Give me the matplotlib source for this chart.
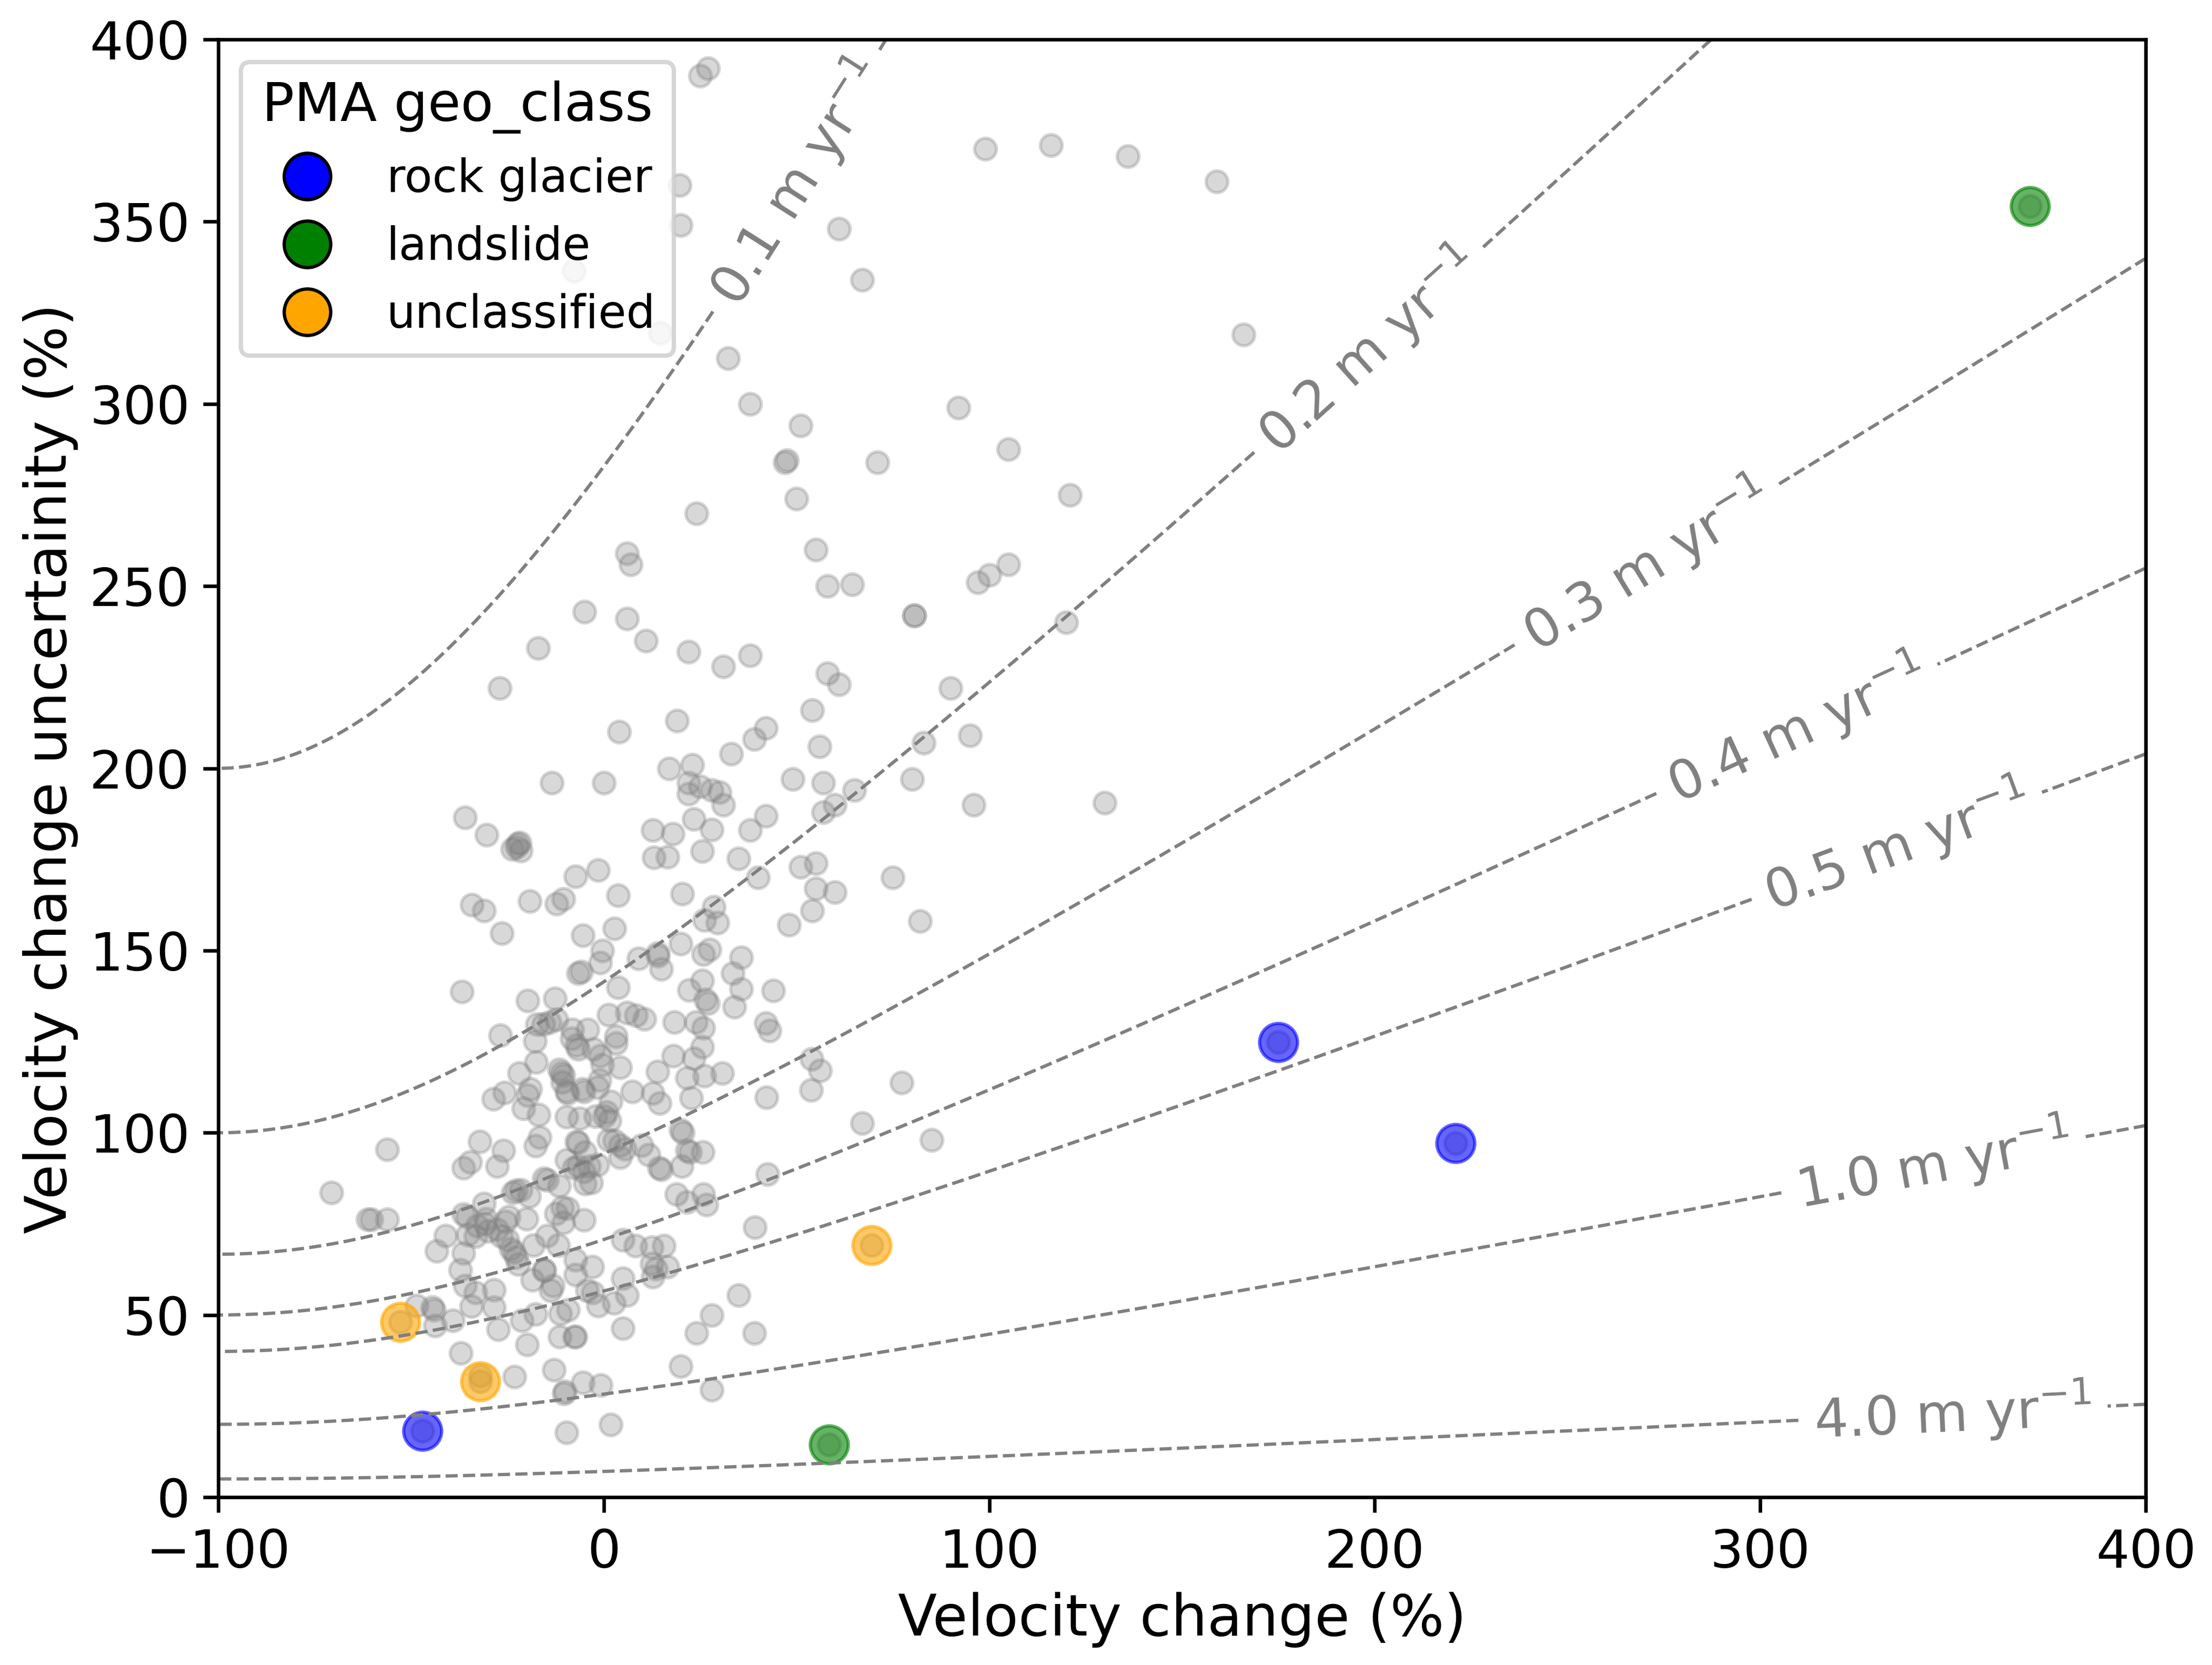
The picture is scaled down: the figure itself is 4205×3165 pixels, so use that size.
import numpy as np
import matplotlib
matplotlib.use("Agg")
import matplotlib.pyplot as plt
from matplotlib.lines import Line2D

# velocity change (%), velocity change uncertainty (%)
other_upper = [(27,392),(25,390),(99,370),(116,371),(136,368),(159,361),(19.7,360),(20,349),(61,348),(-7.8,336.5),
    (67,334),(14.6,319.5),(166,319),(32.3,312.5),(38,300),(92,299),(51,294),(105,287.5),(47,284),(47.5,284.5),(71,284),
    (121,275),(50,274),(24,270),(55,260),(6,259),(7,256),(105,256),(100,253),(97,251),(58,250),(64.5,250.5),
    (80.5,242),(80.5,242),(120,240),(-5,243),(6,241),(11,235),(-17,233),(22,232),(38,231),(31,228),(58,226),
    (61,223),(-27,222),(90,222),(19,213),(54,216),(4,210),(42,211),(39,208),(95,209),(83,207),(33,204),(56,206),
    (23,201),(17,200),(22,196),(25,195),(28,194),(30,193.5),(-13.5,196),(0,196),(49,197),(57,196),(80,197),(65,194),
    (22,193),(31,190),(60,190),(96,190),(130,190.5),(57,188),(42,187),(38,183),(55,174),(51,173),(40,170),(75,170),
    (55,167),(60,166),(54,161),(82,158),(48,157),(44,139),(42,130),(43,128)]
other_band = [(-36,186.5),(-30.4,181.8),(-22.3,179.3),(-22.6,178.4),(-21.5,177.4),(-23.7,177.9),(-21.8,179.6),
    (12.7,183),(17.9,182),(23.3,186),(28,183.2),(25.6,177.2),(13,175.5),(16.5,175.7),(35,175.3),(-7.4,170.3),(-1.5,172),
    (3.7,165.2),(20.3,165.5),(-34.2,162.5),(-31.1,161),(-19.2,163.6),(-12.3,162.8),(-10.5,164.1),(-26.5,154.8),(-5.4,154.1),
    (2.7,156.1),(-0.4,150),(-0.9,146.6),(28.6,162),(26.1,158.4),(29.5,157.7),(19.9,151.8),(27.5,150.2),(25.8,149),
    (-6.6,143.8),(-5.9,144.2),(9.1,147.8),(13.9,149.3),(14.1,148.6),(14.9,144.9),(35.6,148.1),(33.4,143.8),
    (-36.8,138.7),(3.7,139.9),(25.6,141.7),(22.2,139.2),(26.4,136.5),(27,135.6),(35.6,139.4),(33.9,134.6),
    (-19.7,136.3),(-12.6,136.8),(1.3,132.4),(6,132.9),(8.3,132.2),(10.5,131.2),(18.3,130.3),(23.9,130.3),(25.8,128.8),
    (-17.3,129.8),(-15.7,129.8),(-14,130.3),(-12.3,131),(-8.2,128.4),(-4.2,128.4),(3.2,126.4)]
other_mid = [(-26.9,126.7),(-17.8,125.2),(-17.6,119.4),(-21.9,116.3),(-11,116.5),(-11.6,117.3),(-10.5,115.8),(-8.3,125.9),
    (-7.1,124),(-6.6,123),(-2.7,123),(-0.4,118.7),(-1,114.4),(-25.8,111),(-28.6,109.3),(-19.1,112),(-19.8,110.3),
    (-20.8,106.7),(-16.9,105),(-9.4,110.8),(-9.6,111.5),(-10.7,113.9),(-5.5,112),(-5.2,111.3),(-1.6,112.5),(-9.6,104.3),
    (-6.3,104),(-2.1,104.5),(0.1,104.5),(1.5,103.3),(-32.2,97.6),(-26.1,95.2),(-34.7,92),(-36.4,90.3),(-27.7,90.8),
    (-16.6,98.7),(-17.7,96.4),(-7.1,97.6),(-6.6,97.3),(-4.9,94.7),(-9.6,92.5),(-6.6,90.8),(-7.7,90.3),(-5.2,89.4),(-3.8,90.8),
    (-1.6,91.3),(1.2,98),(-14.7,87),(-15.5,87.5),(-11.6,85.5),(-4.9,86),(-3.2,86.3),(-22.7,84.1),
    (-23.6,83.6),(-21.6,84.3),(-19.4,82.6),(-31.1,80.5),(-36.4,77.6),(-35.5,76.9),(-10.7,79.5),(-9.4,79.3),(-12.4,77.8),
    (-10.5,75.4),(-5.2,76.1),(-20,76.4),(-24.7,76.9),(-70.6,83.6),(-56.2,95.4),(-61.2,76.2),(-60.3,76.2),(-56.2,76.2),
    (-0.9,121.1),(4.3,118),(18,121.1),(14,116.8),(25.5,123.5),(23.3,120.4),(21.6,115.1),(3.2,124.6),
    (26.1,115.6),(30.7,116.4),(7.4,111.3),(12.7,110.8),(14.5,108.1),(22.7,109.6),(42.2,109.7),(53.9,120.2),(56.1,117),
    (53.8,111.7),(77.3,113.7),(67,102.6),(1.8,108.6),(0.7,105.7),(19.9,100.7),(20.5,100),(21.6,95.2),
    (22.4,94.7),(25.7,94.7),(20.2,90.8),(2.7,97.8),(4.3,96.6),(5.5,95.6),(4.3,93.2),(9.9,96.6),(11.6,94),(14.4,90.3),(14.9,89.9),
    (42.5,88.7),(18.8,83.1),(21.6,81),(25.8,83.1),(26.6,80.2),(85,98)]
other_lower = [(-41.1,71.8),(-43.3,67.5),(-36.4,67),(-37.2,62.4),(-32.8,74.5),(-30.8,75),(-30,73),(-27.7,73.5),(-25.5,75.7),
    (-35.3,72),(-33.3,71.6),(-30.5,76.4),(-26.6,71.6),(-25,70.6),(-23.3,67.3),(-24.1,68.2),(-22.7,65.8),(-22.2,63.9),
    (-18.3,69.2),(-14.7,71.8),(-11.9,69.2),(-7.4,65.1),(-3,63.2),(-15.5,62.4),(-7.4,61),(39.2,74.1),(4.9,70.6),(8.2,69),
    (12.4,68.5),(15.6,69),(12.4,64.1),(13.5,62.7),(16.6,63.2),(12.7,60.5),(4.9,60),(-36,58.1),(-33.3,56.2),(-28.5,56.9),
    (-48.6,52.6),(-44.4,52.1),(-44.1,51.4),(-43.8,47),(-39.1,48.5),(-34.4,52.4),(-28.5,52.1),(-27.4,46.1),(-21.3,48.5),
    (-17.7,50.2),(-11.3,50.4),(-9.3,51.4),(-19.9,41.8),(-11.5,44),(-7.6,44),(-7.4,44),(4.9,46.3),(2.6,53.3),(6,55.5),(-1.5,52.6),
    (-2.9,56.2),(-4.3,56.7),(-15.4,62.2),(-18.5,59.6),(-13.2,58.1),(-13.8,56.7),(-37.1,39.6),(-32.1,33.4),
    (-23.2,33.1),(-12.9,35),(-10.1,29),(-10.4,28.5),(-5.4,31.4),(-0.8,30.7),(-9.6,17.8),(1.8,19.9),(20,36),(24,45),(28,50),
    (35,55.5),(39,45),(28,29.5)]

rock_glacier_x = [175, 221, -47]
rock_glacier_y = [124.8, 97.2, 18.2]
landslide_x = [370, 58.4]
landslide_y = [354.3, 14.5]
unclassified_x = [69.5, -52.8, -32]
unclassified_y = [69.2, 48, 31.8]

speed_levels = [0.1, 0.2, 0.3, 0.4, 0.5, 1.0, 4.0]
label_spots = [(50, 361), (199, 314), (270.5, 256), (309, 212), (335, 180), (345, 91), (350, 23)]

W, H = 4205, 3165
fig = plt.figure(figsize=(W/600, H/600), dpi=600)
ax = fig.add_axes([415/W, (H-2846)/H, (4079-415)/W, (2846-75)/H])

other = np.array(other_upper + other_band + other_mid + other_lower)
classes = [("rock glacier", "blue", rock_glacier_x, rock_glacier_y),
           ("landslide", "green", landslide_x, landslide_y),
           ("unclassified", "orange", unclassified_x, unclassified_y)]

ax.scatter(other[:, 0], other[:, 1], s=25, color="gray", alpha=0.3, linewidths=0.75)
for name, col, xs, ys in classes:
    ax.scatter(xs, ys, s=25, color="gray", alpha=0.3, linewidths=0.75)
    ax.scatter(xs, ys, s=75, color=col, alpha=0.6, linewidths=0.75)

# iso-speed reference lines of the uncertainty model
gx, gy = np.meshgrid(np.linspace(-100, 400, 1001), np.linspace(1, 400, 1597))
speed = 20.0 / gy * np.sqrt(1 + (1 + gx / 100.0) ** 2)
cs = ax.contour(gx, gy, speed, levels=speed_levels, colors="gray", linestyles="--", linewidths=0.75)
ax.clabel(cs, inline=True, inline_spacing=30, fontsize=12.2, fmt=r"%.1f m yr$^{-1}$", manual=label_spots, colors="gray")

ax.set_xlim(-100, 400)
ax.set_ylim(0, 400)
ax.set_xlabel("Velocity change (%)", fontsize=13, labelpad=3)
ax.set_ylabel("Velocity change uncertainity (%)", fontsize=13, labelpad=2.5)
ax.tick_params(labelsize=12)
ax.tick_params(axis="y", pad=3)

handles = [Line2D([], [], linestyle="none", marker="o", markersize=10.6, markerfacecolor=c,
                  markeredgecolor="black", markeredgewidth=0.75, label=n) for n, c, _, _ in classes]
leg = ax.legend(handles=handles, title="PMA geo_class", loc="upper left", fontsize=10.4, title_fontsize=12.2,
                handlelength=2.1, handletextpad=0.69, labelspacing=0.52)
leg.set_zorder(10)

fig.savefig("out.png", dpi=600)
